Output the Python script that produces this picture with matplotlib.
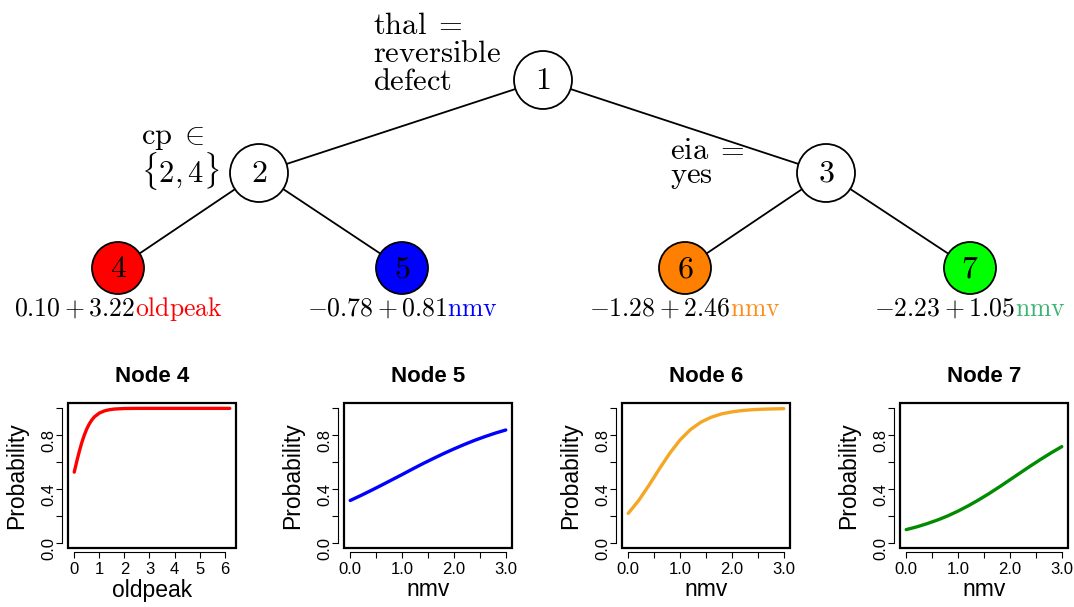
import numpy as np
import matplotlib
matplotlib.use('Agg')
import matplotlib.pyplot as plt
from matplotlib.patches import Circle, Rectangle

plt.rcParams['mathtext.fontset'] = 'cm'
plt.rcParams['font.family'] = ['Liberation Sans', 'DejaVu Sans']

# --- datos del arbol ---
node_ids = [1, 2, 3, 4, 5, 6, 7]
edges = [(1, 2), (1, 3), (2, 4), (2, 5), (3, 6), (3, 7)]
split_labels = {
    1: [r'$\mathrm{thal}\;=$', r'$\mathrm{reversible}$', r'$\mathrm{defect}$'],
    2: [r'$\mathrm{cp}\;\in$', r'$\{2,4\}$'],
    3: [r'$\mathrm{eia}\;=$', r'$\mathrm{yes}$'],
}
leaf_eq = {
    4: (r'$0.10+3.22$', r'$\mathrm{oldpeak}$'),
    5: (r'$-0.78+0.81$', r'$\mathrm{nmv}$'),
    6: (r'$-1.28+2.46$', r'$\mathrm{nmv}$'),
    7: (r'$-2.23+1.05$', r'$\mathrm{nmv}$'),
}
leaf_fill = {4: '#FF0000', 5: '#0000FF', 6: '#FF8000', 7: '#00FF00'}
eq_color = {4: '#FF0000', 5: '#0000FF', 6: '#FF8C1A', 7: '#3CB371'}

# --- curvas de probabilidad ---
x_oldpeak = [0, 0.1, 0.2, 0.3, 0.4, 0.5, 0.6, 0.7, 0.8, 1.0, 1.2, 1.4, 1.6, 2.0, 2.5, 3, 4, 5, 6.2]
p_node4 = [0.525, 0.604, 0.678, 0.744, 0.800, 0.847, 0.884, 0.913, 0.936, 0.965, 0.981,
           0.990, 0.995, 0.999, 1.0, 1.0, 1.0, 1.0, 1.0]
x_nmv = [0.0, 0.2, 0.4, 0.6, 0.8, 1.0, 1.2, 1.4, 1.6, 1.8, 2.0, 2.2, 2.4, 2.6, 2.8, 3.0]
p_node5 = [0.314, 0.350, 0.388, 0.427, 0.467, 0.507, 0.548, 0.588, 0.626, 0.663, 0.698,
           0.731, 0.762, 0.790, 0.816, 0.839]
p_node6 = [0.218, 0.313, 0.427, 0.549, 0.665, 0.765, 0.842, 0.897, 0.934, 0.959, 0.974,
           0.984, 0.990, 0.994, 0.996, 0.998]
p_node7 = [0.097, 0.117, 0.141, 0.168, 0.199, 0.235, 0.275, 0.319, 0.366, 0.416, 0.468,
           0.520, 0.572, 0.622, 0.670, 0.715]

W, H = 1074, 607
fig = plt.figure(figsize=(W / 100, H / 100), dpi=100)

# capa del arbol en coordenadas de pixel
tree = fig.add_axes([0, 0, 1, 1])
tree.set_xlim(0, W)
tree.set_ylim(H, 0)
tree.axis('off')

pos = {1: (543, 80), 2: (259, 173), 3: (826, 173),
       4: (118, 268), 5: (402, 268), 6: (685, 268), 7: (970, 268)}

for a, b in edges:
    tree.plot([pos[a][0], pos[b][0]], [pos[a][1], pos[b][1]], color='black', lw=1.3, zorder=1)

for n in node_ids:
    if n in leaf_fill:
        r, fc = 26, leaf_fill[n]
    else:
        r, fc = 29, 'white'
    tree.add_patch(Circle(pos[n], r, facecolor=fc, edgecolor='black', lw=1.3, zorder=2))
    tree.text(pos[n][0], pos[n][1] + 1, r'$%d$' % n, fontsize=23, ha='center', va='center', zorder=3)

# etiquetas de los cortes (un solo texto de varias lineas)
split_xy = {1: (373, 90, 0.92), 2: (141, 182, 0.92), 3: (670, 183, 0.72)}
for n, lines in split_labels.items():
    x0, yb, ls = split_xy[n]
    tree.text(x0, yb, '\n'.join(lines), fontsize=22, ha='left', va='baseline',
              linespacing=ls, multialignment='left')

# ecuaciones de las hojas
fig.canvas.draw()
rend = fig.canvas.get_renderer()
for n, (num, var) in leaf_eq.items():
    t1 = tree.text(0, 316, num, fontsize=18.5, ha='left', va='baseline')
    t2 = tree.text(0, 316, var, fontsize=18.5, ha='left', va='baseline', color=eq_color[n])
    w1 = t1.get_window_extent(rend).width
    w2 = t2.get_window_extent(rend).width
    x0 = pos[n][0] - (w1 + w2) / 2
    t1.set_x(x0)
    t2.set_x(x0 + w1)

# graficos inferiores
panels = [
    (68, 'Node 4', x_oldpeak, p_node4, '#FF0000', 'oldpeak'),
    (344, 'Node 5', x_nmv, p_node5, '#0000FF', 'nmv'),
    (622, 'Node 6', x_nmv, p_node6, '#F5A623', 'nmv'),
    (900, 'Node 7', x_nmv, p_node7, '#008B00', 'nmv'),
]
top, bot, pw = 403, 548, 168
for left, title, xs, ps, col, xlab in panels:
    ax = fig.add_axes([left / W, (H - bot) / H, pw / W, (bot - top) / H])
    ax.plot(xs, ps, color=col, lw=2.4, solid_capstyle='round')
    xmax = max(xs)
    ax.set_xlim(-0.04 * xmax, 1.04 * xmax)
    ax.set_ylim(-0.04, 1.04)
    if xlab == 'oldpeak':
        ax.set_xticks(range(7))
        ax.set_xticklabels([str(i) for i in range(7)])
        ax.spines['bottom'].set_bounds(0, 6)
    else:
        ax.set_xticks(np.arange(0, 3.01, 0.5))
        ax.set_xticklabels(['0.0', '', '1.0', '', '2.0', '', '3.0'])
        ax.spines['bottom'].set_bounds(0, 3)
    ax.set_yticks([0, 0.2, 0.4, 0.6, 0.8, 1.0])
    ax.set_yticklabels(['0.0', '', '0.4', '', '0.8', ''])
    ax.tick_params(axis='y', labelrotation=90)
    plt.setp(ax.get_yticklabels(), va='center')
    ax.spines['left'].set_bounds(0, 1)
    ax.spines['left'].set_position(('outward', 4))
    ax.spines['bottom'].set_position(('outward', 3))
    for s in ['top', 'right']:
        ax.spines[s].set_visible(False)
    for s in ['left', 'bottom']:
        ax.spines[s].set_linewidth(0.8)
    ax.tick_params(length=4, width=0.8, labelsize=12, pad=3)
    ax.tick_params(axis='y', pad=0.5)
    ax.add_patch(Rectangle((0, 0), 1, 1, transform=ax.transAxes, fill=False,
                           edgecolor='black', lw=1.6, clip_on=False, zorder=5))
    cx = (left + pw / 2) / W
    fig.text(cx, (H - 377) / H, title, fontsize=16, fontweight='bold', ha='center', va='center')
    fig.text(cx, (H - 590) / H, xlab, fontsize=16.5, ha='center', va='center')
    fig.text((left - 51) / W, (H - (top + bot) / 2) / H, 'Probability', fontsize=16.5,
             rotation=90, ha='center', va='center')

fig.savefig('out.png', dpi=100)
